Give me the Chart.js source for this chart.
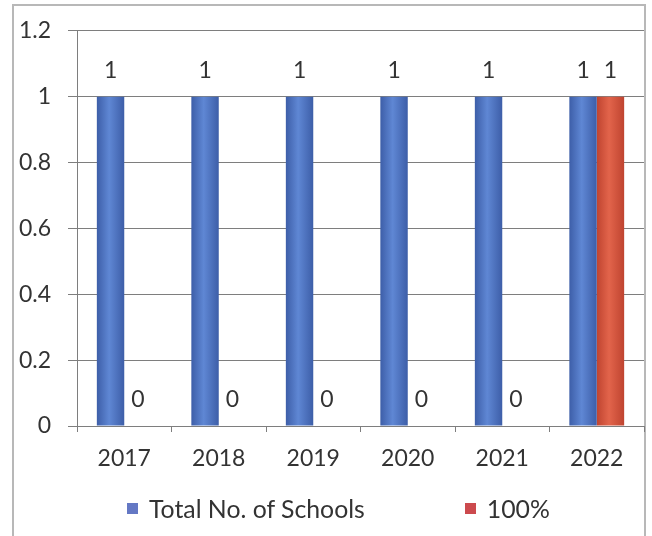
<!DOCTYPE html>
<html>
<head>
<meta charset="utf-8">
<script src="https://cdn.jsdelivr.net/npm/chart.js@4.4.1/dist/chart.umd.min.js"></script>
<style>
  html, body { margin: 0; padding: 0; background: #fff; }
  #wrap { position: relative; width: 652px; height: 536px; overflow: hidden; }
  #frame {
    position: absolute; left: 12px; top: 4px; width: 634px; height: 560px;
    border: 2px solid #b8b8b8; box-sizing: border-box;
  }
  #chart { position: absolute; left: 0; top: 0; }
  #legend {
    position: absolute; left: 127px; top: 494px;
    display: flex; gap: 100px;
    font-family: Lato, 'Liberation Sans', sans-serif; font-size: 24.8px; color: #333;
  }
  #legend span.item { display: flex; align-items: center; }
  #legend span.box { display: inline-block; width: 11px; height: 11px; margin-right: 11px; }
</style>
</head>
<body>
<div id="wrap">
  <div id="frame"></div>
  <canvas id="chart" width="652" height="536"></canvas>
  <div id="legend"></div>
</div>
<script>
// ─── DATA ──────────────────────────────────────────
const years = ['2017', '2018', '2019', '2020', '2021', '2022'];
const totalSchools = [1, 1, 1, 1, 1, 1];
const fullPercent = [0, 0, 0, 0, 0, 1];
const yTicks = [0, 0.2, 0.4, 0.6, 0.8, 1, 1.2];

const COLORS = {
  blue: '#5279c6', blueEdge: '#3d5ea8', blueMid: '#5f87d4',
  red: '#d8543c', redEdge: '#bf4430', redMid: '#e2644b',
  legendBlue: '#6478c4', legendRed: '#cc4a4e',
  grid: '#7e7e7e',
  text: '#333333',
};
const FONT = "Lato, 'Liberation Sans', sans-serif";
const FONT_SIZE = 23;

// horizontal shading across each bar, like a cylinder
function barShade(edge, mid, flat) {
  return (c) => {
    const el = c.element;
    if (!el || !isFinite(el.x) || !el.width) return flat;
    const g = c.chart.ctx.createLinearGradient(el.x - el.width / 2, 0, el.x + el.width / 2, 0);
    g.addColorStop(0, edge);
    g.addColorStop(0.45, mid);
    g.addColorStop(1, edge);
    return g;
  };
}

// value labels above the bars
const valueLabels = {
  id: 'valueLabels',
  afterDatasetsDraw(chart) {
    const ctx = chart.ctx;
    ctx.save();
    ctx.font = FONT_SIZE + 'px ' + FONT;
    ctx.fillStyle = COLORS.text;
    ctx.textAlign = 'center';
    ctx.textBaseline = 'middle';
    chart.data.datasets.forEach((ds, i) => {
      chart.getDatasetMeta(i).data.forEach((bar, j) => {
        ctx.fillText(String(ds.data[j]), bar.x, bar.y - 26);
      });
    });
    ctx.restore();
  }
};

const chart = new Chart(document.getElementById('chart'), {
  type: 'bar',
  data: {
    labels: years,
    datasets: [
      {
        label: 'Total No. of Schools',
        data: totalSchools,
        backgroundColor: barShade(COLORS.blueEdge, COLORS.blueMid, COLORS.blue),
        legendColor: COLORS.legendBlue,
        categoryPercentage: 0.58,
        barPercentage: 1.0,
      },
      {
        label: '100%',
        data: fullPercent,
        backgroundColor: barShade(COLORS.redEdge, COLORS.redMid, COLORS.red),
        legendColor: COLORS.legendRed,
        categoryPercentage: 0.58,
        barPercentage: 1.0,
      }
    ]
  },
  options: {
    responsive: false,
    animation: false,
    layout: { padding: { left: 0, right: 8, top: 28, bottom: 50 } },
    plugins: {
      legend: { display: false },
      tooltip: { enabled: false },
    },
    scales: {
      x: {
        grid: { drawOnChartArea: false, color: COLORS.grid, tickLength: 6, offset: true },
        border: { color: COLORS.grid },
        ticks: { color: COLORS.text, font: { family: FONT, size: FONT_SIZE }, padding: 13 },
        afterFit: (s) => { s.height = 60; },
      },
      y: {
        min: 0,
        max: 1.2,
        afterBuildTicks: (s) => { s.ticks = yTicks.map(v => ({ value: v })); },
        grid: { color: COLORS.grid, tickLength: 9 },
        border: { color: COLORS.grid },
        ticks: {
          color: COLORS.text, font: { family: FONT, size: FONT_SIZE }, padding: 17,
          callback: (v) => String(Math.round(v * 10) / 10),
        },
        afterFit: (s) => { s.width = 77; },
      }
    }
  },
  plugins: [valueLabels]
});
// second pass so the bar shading knows each bar's position
chart.update('none');

// ─── LEGEND ────────────────────────────────────────
const legend = document.getElementById('legend');
chart.data.datasets.forEach(ds => {
  const item = document.createElement('span');
  item.className = 'item';
  const box = document.createElement('span');
  box.className = 'box';
  box.style.background = ds.legendColor;
  item.appendChild(box);
  item.appendChild(document.createTextNode(ds.label));
  legend.appendChild(item);
});
</script>
</body>
</html>
